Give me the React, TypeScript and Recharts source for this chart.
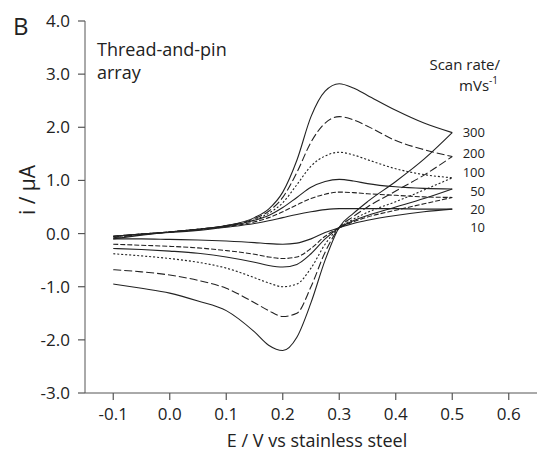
import { LineChart, Line, XAxis, YAxis } from 'recharts';

// potential grid (V), shared by every sweep, ascending
const POTENTIAL = [-0.1, -0.05, 0, 0.05, 0.1, 0.15, 0.175, 0.2, 0.225, 0.25, 0.275, 0.3, 0.325, 0.35, 0.4, 0.45, 0.5];

// anodic (forward) sweeps, µA
const I300_FWD = [-0.1, -0.03, 0.03, 0.08, 0.15, 0.3, 0.46, 0.78, 1.38, 2.2, 2.68, 2.82, 2.74, 2.6, 2.32, 2.08, 1.9];
const I200_FWD = [-0.08, -0.02, 0.03, 0.08, 0.15, 0.28, 0.42, 0.68, 1.15, 1.72, 2.08, 2.2, 2.14, 2.02, 1.75, 1.58, 1.45];
const I100_FWD = [-0.06, -0.01, 0.03, 0.08, 0.14, 0.26, 0.38, 0.58, 0.92, 1.27, 1.46, 1.53, 1.48, 1.39, 1.22, 1.11, 1.05];
const I50_FWD = [-0.05, -0.01, 0.03, 0.08, 0.14, 0.25, 0.34, 0.49, 0.68, 0.87, 0.98, 1.02, 0.99, 0.94, 0.88, 0.85, 0.84];
const I20_FWD = [-0.05, -0.01, 0.03, 0.07, 0.13, 0.22, 0.3, 0.41, 0.54, 0.66, 0.74, 0.78, 0.77, 0.75, 0.72, 0.69, 0.68];
const I10_FWD = [-0.05, -0.01, 0.02, 0.06, 0.12, 0.19, 0.24, 0.3, 0.36, 0.41, 0.45, 0.47, 0.47, 0.47, 0.47, 0.46, 0.46];

// cathodic (return) sweeps, listed at the same ascending potentials
const I300_REV = [-0.95, -1.03, -1.12, -1.27, -1.45, -1.85, -2.1, -2.2, -1.95, -1.3, -0.5, 0.12, 0.38, 0.6, 0.98, 1.4, 1.9];
const I200_REV = [-0.68, -0.72, -0.78, -0.88, -1.03, -1.3, -1.45, -1.56, -1.5, -1.0, -0.35, 0.11, 0.32, 0.5, 0.8, 1.1, 1.45];
const I100_REV = [-0.38, -0.42, -0.47, -0.54, -0.65, -0.83, -0.93, -1.0, -0.95, -0.65, -0.2, 0.11, 0.27, 0.4, 0.6, 0.82, 1.05];
const I50_REV = [-0.28, -0.3, -0.33, -0.37, -0.44, -0.54, -0.6, -0.63, -0.58, -0.38, -0.1, 0.11, 0.24, 0.34, 0.5, 0.66, 0.84];
const I20_REV = [-0.2, -0.22, -0.24, -0.27, -0.32, -0.39, -0.44, -0.47, -0.44, -0.28, -0.05, 0.11, 0.22, 0.31, 0.44, 0.56, 0.68];
const I10_REV = [-0.1, -0.1, -0.11, -0.12, -0.14, -0.17, -0.19, -0.2, -0.18, -0.1, 0.02, 0.11, 0.19, 0.25, 0.34, 0.41, 0.46];

const SCAN_RATES = ['300', '200', '100', '50', '20', '10'];

const X_TICKS = [-0.1, -0.05, 0, 0.05, 0.1, 0.15, 0.2, 0.25, 0.3, 0.35, 0.4, 0.45, 0.5, 0.55, 0.6, 0.65];
const Y_TICKS = [-3, -2.5, -2, -1.5, -1, -0.5, 0, 0.5, 1, 1.5, 2, 2.5, 3, 3.5, 4];

const FONT = '"Open Sans", sans-serif';
const INK = '#222';
const AXIS = '#555';
const TICK_MAJOR = 7;
const TICK_MINOR = 4;
const TICK_GAP = 8;

const toPoints = (values: number[]) => POTENTIAL.map((E, k) => ({ E, i: values[k] }));

const sweeps = [
  { rate: '300', fwd: I300_FWD, rev: I300_REV, dash: undefined },
  { rate: '200', fwd: I200_FWD, rev: I200_REV, dash: '8 3' },
  { rate: '100', fwd: I100_FWD, rev: I100_REV, dash: '2 2' },
  { rate: '50', fwd: I50_FWD, rev: I50_REV, dash: undefined },
  { rate: '20', fwd: I20_FWD, rev: I20_REV, dash: '5 2' },
  { rate: '10', fwd: I10_FWD, rev: I10_REV, dash: undefined },
];

const isMajorX = (v: number) => Math.abs(v * 10 - Math.round(v * 10)) < 1e-6 && v < 0.62;
const isMajorY = (v: number) => Math.abs(v - Math.round(v)) < 1e-6;

// inward ticks on the top / right frame
function TopTick({ x, y }: any) {
  return <path d={`M${x},${y}v${TICK_MINOR}`} stroke={AXIS} strokeWidth={1.2} fill="none" />;
}

function RightTick({ x, y }: any) {
  return <path d={`M${x},${y}h${-TICK_MINOR}`} stroke={AXIS} strokeWidth={1.2} fill="none" />;
}

const LABEL_BASELINES = [129, 150, 169, 188, 206, 224];

export default function App() {
  return (
    <div style={{ position: 'relative', width: 540, height: 447, fontFamily: FONT }}>
      <LineChart width={540} height={440} margin={{ top: 13, right: 11, bottom: 0, left: 0 }}>
        <XAxis
          xAxisId="x"
          type="number"
          dataKey="E"
          domain={[-0.15, 0.65]}
          allowDataOverflow
          ticks={X_TICKS.filter(isMajorX)}
          interval={0}
          height={55}
          tickSize={TICK_MAJOR}
          tickMargin={TICK_GAP}
          tickLine={{ stroke: AXIS, strokeWidth: 1.2 }}
          tick={{ fontSize: 17, fontFamily: FONT, fill: INK }}
          tickFormatter={(v: number) => v.toFixed(1)}
          stroke={AXIS}
        />
        <XAxis
          xAxisId="minor"
          type="number"
          dataKey="E"
          domain={[-0.15, 0.65]}
          allowDataOverflow
          ticks={X_TICKS.filter((v) => !isMajorX(v))}
          interval={0}
          height={0}
          tickSize={TICK_MINOR}
          tickMargin={0}
          tickLine={{ stroke: AXIS, strokeWidth: 1.2 }}
          tick={false}
          axisLine={false}
        />
        <XAxis
          xAxisId="top"
          orientation="top"
          type="number"
          dataKey="E"
          domain={[-0.15, 0.65]}
          allowDataOverflow
          ticks={X_TICKS}
          interval={0}
          height={0}
          tickSize={0}
          tickMargin={0}
          tickLine={false}
          tick={<TopTick />}
          stroke={AXIS}
        />
        <YAxis
          yAxisId="y"
          type="number"
          domain={[-3, 4]}
          allowDataOverflow
          ticks={Y_TICKS.filter(isMajorY)}
          interval={0}
          width={77}
          tickSize={TICK_MAJOR}
          tickMargin={TICK_GAP}
          tickLine={{ stroke: AXIS, strokeWidth: 1.2 }}
          tick={{ fontSize: 17, fontFamily: FONT, fill: INK }}
          tickFormatter={(v: number) => v.toFixed(1)}
          stroke={AXIS}
        />
        <YAxis
          yAxisId="minor"
          type="number"
          domain={[-3, 4]}
          allowDataOverflow
          ticks={Y_TICKS.filter((v) => !isMajorY(v))}
          interval={0}
          width={0}
          tickSize={TICK_MINOR}
          tickMargin={0}
          tickLine={{ stroke: AXIS, strokeWidth: 1.2 }}
          tick={false}
          axisLine={false}
        />
        <YAxis
          yAxisId="right"
          orientation="right"
          type="number"
          domain={[-3, 4]}
          allowDataOverflow
          ticks={Y_TICKS}
          interval={0}
          width={0}
          tickSize={0}
          tickMargin={0}
          tickLine={false}
          tick={<RightTick />}
          stroke={AXIS}
        />
        {sweeps.flatMap((s) => [
          <Line
            key={s.rate + '-fwd'}
            xAxisId="x"
            yAxisId="y"
            data={toPoints(s.fwd)}
            dataKey="i"
            type="monotone"
            stroke={INK}
            strokeWidth={1.1}
            strokeDasharray={s.dash}
            dot={false}
            isAnimationActive={false}
          />,
          <Line
            key={s.rate + '-rev'}
            xAxisId="x"
            yAxisId="y"
            data={toPoints(s.rev)}
            dataKey="i"
            type="monotone"
            stroke={INK}
            strokeWidth={1.1}
            strokeDasharray={s.dash}
            dot={false}
            isAnimationActive={false}
          />,
        ])}
      </LineChart>
      <svg
        width={540}
        height={447}
        style={{ position: 'absolute', left: 0, top: 0, pointerEvents: 'none' }}
        fontFamily={FONT}
        fill={INK}
      >
        <text x={5} y={27} fontSize={24}>B</text>
        <text x={0} y={0} fontSize={21} textAnchor="middle" transform="translate(27 182) rotate(-90)">
          i / μA
        </text>
        <text x={309} y={439} fontSize={18} textAnchor="middle">E / V vs stainless steel</text>
        <text x={89} y={48} fontSize={18}>Thread-and-pin</text>
        <text x={89} y={71} fontSize={18}>array</text>
        <text x={492} y={62} fontSize={15} textAnchor="end">Scan rate/</text>
        <text x={490} y={83} fontSize={15} textAnchor="end">
          mVs<tspan fontSize={10} dy={-7}>-1</tspan>
        </text>
        {SCAN_RATES.map((r, k) => (
          <text key={r} x={477} y={LABEL_BASELINES[k]} fontSize={13} textAnchor="end">
            {r}
          </text>
        ))}
      </svg>
    </div>
  );
}
